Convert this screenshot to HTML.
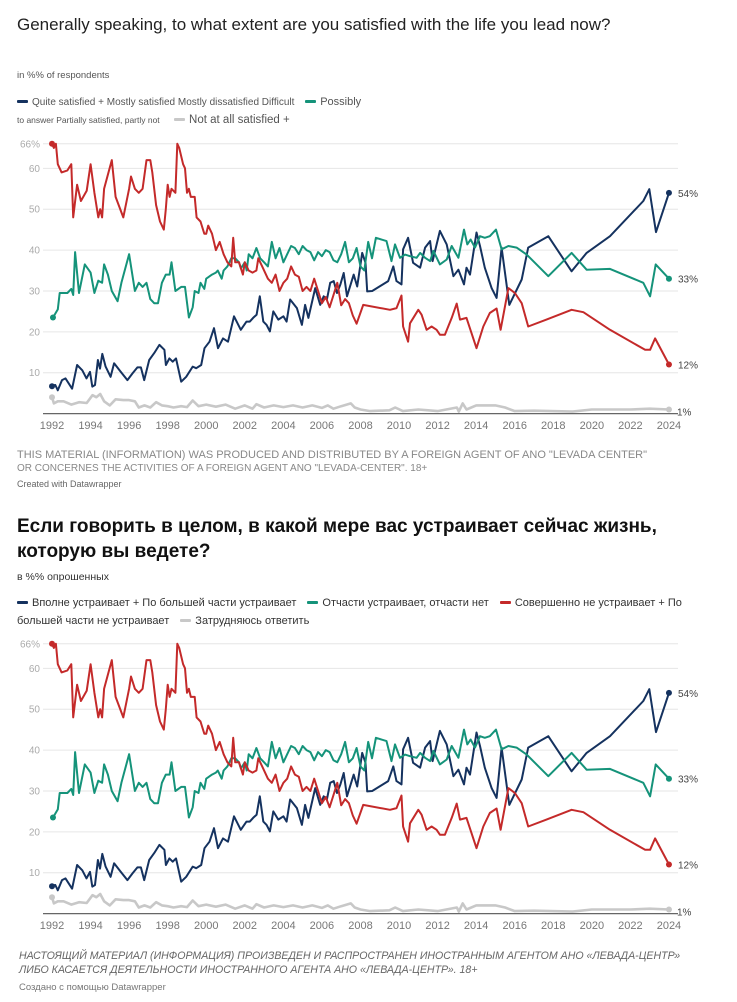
<!DOCTYPE html>
<html><head><meta charset="utf-8">
<style>
html,body{margin:0;padding:0;background:#fff;}
body{width:737px;height:1002px;position:relative;overflow:hidden;font-family:"Liberation Sans","Noto Sans CJK SC",sans-serif;}
.t{position:absolute;white-space:nowrap;}
.dash{display:inline-block;width:11px;height:3px;border-radius:1px;vertical-align:middle;margin-right:4px;position:relative;top:-1px;}
svg{position:absolute;left:0;top:0;}
</style></head>
<body>
<div class="t" style="left:17px;top:15px;font-size:17px;color:#222;">Generally speaking, to what extent are you satisfied with the life you lead now?</div>
<div class="t" style="left:17px;top:70px;font-size:9.5px;color:#555;">in %% of respondents</div>
<div class="t" style="left:17px;top:96px;font-size:10px;color:#555;"><span class="dash" style="background:#15325f"></span>Quite satisfied + Mostly satisfied Mostly dissatisfied Difficult <span class="dash" style="background:#15937a;margin-left:8px"></span><span style="font-size:11px">Possibly</span></div>
<div class="t" style="left:17px;top:114px;font-size:8.5px;color:#555;">to answer Partially satisfied, partly not <span class="dash" style="background:#c8c8c8;margin-left:12px"></span><span style="font-size:11.5px">Not at all satisfied +</span></div>
<div class="t" style="left:17px;top:449px;font-size:11px;color:#888;line-height:13px;">THIS MATERIAL (INFORMATION) WAS PRODUCED AND DISTRIBUTED BY A FOREIGN AGENT OF ANO "LEVADA CENTER"<br><span style="font-size:10px">OR CONCERNES THE ACTIVITIES OF A FOREIGN AGENT ANO "LEVADA-CENTER". 18+</span></div>
<div class="t" style="left:17px;top:479px;font-size:9px;color:#666;">Created with Datawrapper</div>

<div class="t" style="left:17px;top:514px;font-size:19px;font-weight:bold;color:#111;line-height:25px;">Если говорить в целом, в какой мере вас устраивает сейчас жизнь,<br>которую вы ведете?</div>
<div class="t" style="left:17px;top:571px;font-size:10.5px;color:#333;">в %% опрошенных</div>
<div class="t" style="left:17px;top:597px;font-size:11px;color:#333;"><span class="dash" style="background:#15325f"></span>Вполне устраивает + По большей части устраивает <span class="dash" style="background:#15937a;margin-left:8px"></span>Отчасти устраивает, отчасти нет <span class="dash" style="background:#c42a2a;margin-left:8px"></span>Совершенно не устраивает + По</div>
<div class="t" style="left:17px;top:615px;font-size:11px;color:#333;">большей части не устраивает <span class="dash" style="background:#c8c8c8;margin-left:8px"></span>Затрудняюсь ответить</div>
<div class="t" style="left:19px;top:949px;font-size:10.6px;font-style:italic;color:#666;line-height:14px;">НАСТОЯЩИЙ МАТЕРИАЛ (ИНФОРМАЦИЯ) ПРОИЗВЕДЕН И РАСПРОСТРАНЕН ИНОСТРАННЫМ АГЕНТОМ АНО «ЛЕВАДА-ЦЕНТР»<br>ЛИБО КАСАЕТСЯ ДЕЯТЕЛЬНОСТИ ИНОСТРАННОГО АГЕНТА АНО «ЛЕВАДА-ЦЕНТР». 18+</div>
<div class="t" style="left:19px;top:982px;font-size:9.5px;color:#777;">Создано с помощью Datawrapper</div>

<svg id="chart" width="737" height="1002"></svg>
<script>
const tickYears = [1992,1994,1996,1998,2000,2002,2004,2006,2008,2010,2012,2014,2016,2018,2020,2022,2024];
const tickValues = [10,20,30,40,50,60,66];
const tickLabels = ["10","20","30","40","50","60","66%"];

const redYears = [1992,1992.1,1992.2,1992.3,1992.5,1992.8,1993,1993.1,1993.3,1993.5,1993.8,1994,1994.2,1994.4,1994.5,1994.6,1994.7,1995.1,1995.3,1995.7,1996,1996.1,1996.3,1996.5,1996.7,1996.9,1997.1,1997.2,1997.4,1997.6,1997.8,1997.9,1998,1998.1,1998.2,1998.4,1998.5,1998.6,1998.8,1998.9,1999,1999.1,1999.2,1999.4,1999.5,1999.7,1999.9,2000,2000.1,2000.3,2000.5,2000.7,2000.9,2001.1,2001.3,2001.4,2001.5,2001.7,2001.9,2002,2002.2,2002.4,2002.6,2002.7,2002.9,2003.2,2003.4,2003.6,2003.8,2004,2004.2,2004.4,2004.6,2004.8,2005,2005.2,2005.4,2005.6,2005.8,2006,2006.2,2006.4,2006.6,2006.8,2007,2007.2,2007.4,2007.6,2007.8,2008.14,2009.53,2009.87,2010.13,2010.21,2010.47,2010.57,2011,2011.17,2011.43,2011.69,2011.95,2012.12,2012.38,2012.73,2012.99,2013.16,2013.5,2013.76,2014.02,2014.37,2014.71,2015.06,2015.27,2015.67,2016.01,2016.36,2016.7,2017.65,2018.95,2019.56,2020.94,2022.76,2023.02,2023.28,2024];
const redValues = [66,65,66,61,59,59.5,61,48,56,52,54.5,61,54,48,50,48,55,62,53,48,55,58,55,54,55,62,62,59,51,47,45,50,56,53,55,54,66,65,61,60,54,55,53,53,48,47,44,44,46,44,40,42,39,37,36,43,37,37,34,37,35,34.5,35,38,36,33,32,34,30,32,33,36,34,33.5,30,31,30,33,30,27,28.5,26,29,32,26.5,28,27,24,22,26.6,25.4,25.8,28.9,21.3,17.6,22.1,25.4,24.2,20.5,21.3,20.5,19.3,19.3,23.4,26.9,23,23.4,19.7,16,21.3,24.6,25.7,20.5,30.7,29.5,27,21.3,23,25.4,24.8,20.5,15.6,15.6,18.4,12];

const tealYears = [1992.05,1992.3,1992.4,1992.8,1993,1993.1,1993.2,1993.4,1993.7,1994,1994.2,1994.4,1994.6,1994.7,1994.9,1995.1,1995.4,1995.6,1996,1996.3,1996.5,1996.7,1996.9,1997.1,1997.3,1997.5,1997.7,1997.9,1998.1,1998.2,1998.4,1998.7,1998.9,1999.1,1999.3,1999.4,1999.6,1999.7,1999.9,2000,2000.3,2000.5,2000.6,2000.8,2000.9,2001.1,2001.3,2001.5,2001.7,2001.8,2002,2002.1,2002.2,2002.4,2002.6,2002.8,2003,2003.2,2003.4,2003.6,2003.8,2004,2004.2,2004.4,2004.6,2004.8,2005,2005.2,2005.4,2005.6,2005.8,2006,2006.2,2006.4,2006.6,2006.8,2007,2007.2,2007.4,2007.6,2007.8,2008,2008.2,2008.4,2008.6,2008.8,2009.35,2009.61,2009.79,2010.05,2010.31,2010.57,2010.91,2011.09,2011.35,2011.61,2011.78,2012.12,2012.47,2012.73,2013.08,2013.37,2013.54,2013.71,2013.94,2014.2,2014.45,2014.71,2015.03,2015.32,2015.67,2016.1,2016.62,2017.74,2018.95,2019.73,2020.94,2022.67,2023.02,2023.31,2024];
const tealValues = [23.5,25.5,29.5,29.5,30.5,29,39.5,29.5,36.5,34.5,29.5,32.5,32,36.5,34,30,27.5,32,39,30,32,31,32,28,27,27,32,34,34,37,30,31,31,23.5,26,30,29.5,32,30.5,33,34,34.5,35,33,35,36,38,38,37,35.5,37,35,39,38,40.5,38,37,36,42,38,40.5,37,39,41,40.5,39,41,40,39.5,37.5,39.5,38.5,40,39.5,37.5,37,39,42,37,38,40.5,36,35,42,38,43,42.2,37.3,41.4,38.1,38.9,38.5,38.1,39.3,38.1,37.3,39.8,36.5,37.7,41,38.1,45,41.4,42.6,40.6,43.4,43,43.4,45,40.2,41,40.6,38.9,33.6,39.3,35.2,35.4,32,28.7,36.5,33];

const navyYears = [1992,1992.17,1992.3,1992.52,1992.7,1993.04,1993.3,1993.57,1993.79,1993.97,1994.09,1994.23,1994.38,1994.49,1994.61,1994.78,1995.04,1995.22,1995.57,1995.91,1996.17,1996.43,1996.61,1996.78,1997.04,1997.3,1997.57,1997.83,1997.91,1998.09,1998.26,1998.43,1998.7,1998.96,1999.3,1999.48,1999.74,1999.91,2000.17,2000.4,2000.61,2000.87,2001.13,2001.44,2001.79,2002.09,2002.26,2002.43,2002.61,2002.78,2002.96,2003.13,2003.3,2003.48,2003.74,2004,2004.17,2004.35,2004.7,2004.96,2005.13,2005.3,2005.65,2005.91,2006.09,2006.26,2006.43,2006.61,2006.78,2006.96,2007.13,2007.3,2007.65,2007.83,2008.09,2008.26,2008.35,2008.61,2009.44,2009.7,2009.87,2010.13,2010.21,2010.47,2010.73,2011.09,2011.35,2011.61,2011.74,2012.12,2012.47,2012.82,2013.08,2013.37,2013.5,2013.68,2014.02,2014.2,2014.45,2014.8,2015.06,2015.32,2015.72,2016.36,2016.7,2017.74,2018.95,2019.73,2020.94,2022.67,2022.98,2023.33,2024];
const navyValues = [6.7,7,5.7,8.2,8.6,6.1,11.9,10.6,8.6,10.2,6.6,7,13.1,11,14.6,11.5,9,12.3,10.2,8.2,9.8,11.3,11.3,8.2,13.1,14.8,16.8,15.6,11.9,13.5,12.7,13.5,7.8,9,11.5,11.1,11.9,16,17.6,20.9,16,18.4,17.6,23.8,20.5,22.5,22.5,23.4,24.2,28.7,22.5,21.7,20.1,25,23,23.8,22.5,27.9,25.8,21.7,26.6,23.4,30.7,26.6,28.7,27.9,32,32.4,29.5,31.6,34.4,28.7,34,31.1,39.3,36.9,29.9,30,32.4,36,32.4,31.6,40.2,43,36.9,35.7,40.6,42.2,37.3,44.7,41.4,33.6,35.2,31.6,35.7,34,44.3,41,35.7,30.7,28.3,40.6,26.6,32.8,40.6,43.4,34.8,39.3,43.4,52,54.9,44.4,54];

const grayYears = [1992,1992.1,1992.3,1992.6,1993,1993.4,1993.8,1994.1,1994.3,1994.5,1994.7,1995,1995.3,1995.7,1996,1996.3,1996.5,1996.8,1997.1,1997.4,1997.7,1998,1998.3,1998.7,1999,1999.3,1999.6,2000,2000.5,2001,2001.5,2002,2002.4,2002.6,2003,2003.5,2004,2004.5,2005,2005.5,2006,2006.3,2006.6,2007,2007.5,2007.7,2008,2008.5,2009.5,2009.8,2010.2,2011,2012,2013,2013.1,2013.3,2013.5,2014,2015,2015.5,2016,2017,2019,2020,2022,2023,2024];
const grayValues = [4,2.5,3,3,2.2,2.8,2.6,4.5,4,4.8,3,2,3.5,3.3,3.3,3,1.5,2,1.5,2.8,2,1.8,1.5,1.8,1.6,3.2,1.8,2.2,1.7,2.2,1.2,2,1.2,2.3,1.5,2,1.6,2,1.5,2,1.4,2,1.2,1.8,2.5,1.5,1,0.6,0.8,1.5,0.6,1,0.6,1.5,0.5,2.5,1,2,2,1.5,0.6,0.7,0.5,1,1,1.2,1];

const seriesNames = ["navy","teal","red","gray"];
const endLabels = ["54%","33%","12%","1%"];

const NS = "http://www.w3.org/2000/svg";
const svg = document.getElementById("chart");
function mk(tag, attrs, parent){ const e=document.createElementNS(NS,tag); for(const k in attrs) e.setAttribute(k,attrs[k]); (parent||svg).appendChild(e); return e; }

function drawChart(off, tag){
  const xScale = yr => 52 + (yr-1992)*19.28;
  const yScale = v => off + 413.6 - v*4.088;
  const g = mk("g",{});
  
  
  tickValues.forEach((v,i)=>{
    const l = mk("line",{x1:43,x2:678,y1:yScale(v),y2:yScale(v),stroke:"#e6e6e6","stroke-width":1},g);
    
    
    const t = mk("text",{x:40,y:yScale(v)+3.5,"text-anchor":"end","font-size":"10","fill":"#aaa","font-family":"Liberation Sans, sans-serif"},g);
    t.textContent = tickLabels[i];
    
    
  });
  tickYears.forEach(yr=>{
    const t = mk("text",{x:xScale(yr),y:off+429,"text-anchor":"middle","font-size":"11","fill":"#777","font-family":"Liberation Sans, sans-serif"},g);
    t.textContent = yr;
    
    
  });
  const series = [
    [navyYears,navyValues,"#15325f",2],
    [tealYears,tealValues,"#15937a",2],
    [redYears,redValues,"#c42a2a",2],
    [grayYears,grayValues,"#c8c8c8",2.6]
  ];
  series.forEach((s,i)=>{
    const [xs,vs,c,w]=s;
    const d = xs.map((yr,j)=>(j?"L":"M")+xScale(yr).toFixed(1)+","+yScale(vs[j]).toFixed(1)).join("");
    const p = mk("path",{d:d,fill:"none",stroke:c,"stroke-width":w,"stroke-linejoin":"round"},g);
    
    
    const n = xs.length-1;
    const dot = mk("circle",{cx:xScale(xs[n]),cy:yScale(vs[n]),r:3,fill:c},g);
    
    
    const f = mk("circle",{cx:xScale(xs[0]),cy:yScale(vs[0]),r:3,fill:c},g);
    
    
    const lab = mk("text",{x:xScale(xs[n])+(i==3?8:9),y:yScale(vs[n])+(i==3?6:4),"font-size":"10","fill":"#444","font-family":"Liberation Sans, sans-serif"},g);
    lab.textContent = endLabels[i];
    
    
  });
  const base = mk("line",{x1:43,x2:678,y1:yScale(0),y2:yScale(0),stroke:"#666","stroke-width":1.2},g);
  
  
}
drawChart(0,"en");
drawChart(500,"ru");
</script>
</body></html>
